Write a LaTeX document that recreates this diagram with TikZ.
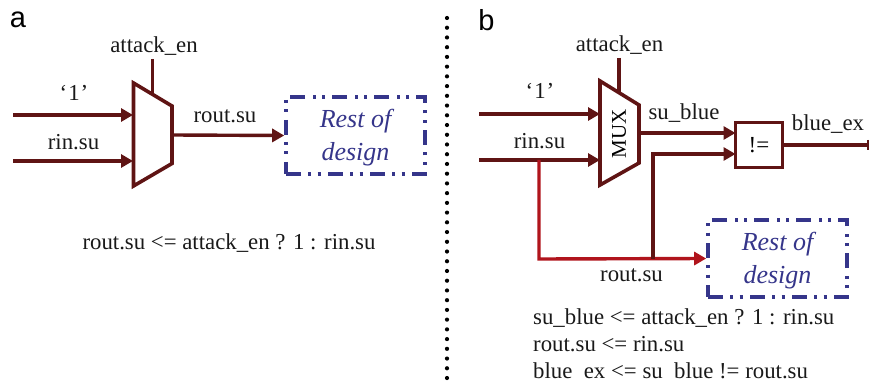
\documentclass[tikz,border=0pt]{standalone}
\usepackage{fontspec}
\setmainfont{Liberation Serif}
\newfontfamily\panelfont{Liberation Sans}
\usetikzlibrary{arrows.meta,calc}
\definecolor{wire}{HTML}{5F1414}
\definecolor{redwire}{HTML}{B0141C}
\definecolor{restblue}{HTML}{35358A}
\tikzset{
  sig/.style={line width=3.4pt,draw=wire},
  sigarrow/.style={sig,-{Triangle[length=12pt,width=13pt]}},
  redarrow/.style={line width=3.4pt,draw=redwire,-{Triangle[length=12pt,width=13pt]}},
  muxshape/.style={line width=3.6pt,draw=wire,line join=miter},
  label/.style={inner sep=0pt,font=\fontsize{22.8}{26}\selectfont,text=black!90},
  codeline/.style={inner sep=0pt,anchor=base west,font=\fontsize{22.8}{26}\selectfont,text=black!90},
  panel/.style={inner sep=0pt,font=\panelfont\fontsize{29}{32}\selectfont,text=black},
  restbox/.style={minimum width=139pt,minimum height=77pt,inner sep=0pt,draw=restblue,line width=3.6pt,
    dash pattern=on 15pt off 7pt on 3pt off 6.5pt on 3pt off 7.5pt},
  resttext/.style={inner sep=0pt,align=center,text=restblue,font=\itshape\fontsize{26}{33}\selectfont},
  cmpbox/.style={minimum width=47pt,minimum height=45pt,inner sep=0pt,draw=wire,line width=3.4pt,font=\fontsize{23}{26}\selectfont},
  divider/.style={line width=4.2pt,black,line cap=round,dash pattern=on 0pt off 9.73pt},
}
\begin{document}
\begin{tikzpicture}[x=1pt,y=-1pt]
\useasboundingbox (0,0) rectangle (869,382);
% panel a
\node[panel] (pa) at (18,20) {a};
\draw[muxshape] (133.5,83) -- (172,106) -- (172,163.5) -- (133.5,186) -- cycle;
\coordinate (aIn1) at (133,115);
\coordinate (aIn2) at (133,161);
\coordinate (aOut) at (172,135);
\coordinate (aSel) at (152.5,93);
\coordinate (aSelTop) at (152.5,59);
\coordinate (aS1) at (13,115);
\coordinate (aS2) at (13,161);
\draw[sig] (aSelTop) -- (aSel);
\draw[sigarrow] (aS1) -- (aIn1);
\draw[sigarrow] (aS2) -- (aIn2);
\node[restbox] (aRest) at (355.5,135.5) {};
\node[resttext] (aRestT) at (355.5,137.5) {Rest of\\design};
\draw[sigarrow] (aOut) -- (aRest.west);
\node[label] (aAttack) at (154,46) {attack\_en};
\node[label] (aOne) at (74,93) {‘\kern1pt1\kern1pt’};
\node[label] (aRin) at (73.5,142) {rin.su};
\node[label] (aRout) at (225,116) {rout.su};
\node[label] (aEq) at (229,243) {rout.su <= attack\_en ? 1 : rin.su};
% divider
\coordinate (dTop) at (447,18);
\coordinate (dBot) at (447,379);
\draw[divider] (dTop) -- (dBot);
% panel b
\node[panel] (pb) at (486.5,20) {b};
\draw[muxshape] (600,81) -- (639,105) -- (639,163) -- (600,185) -- cycle;
\node[inner sep=0pt,rotate=90,font=\fontsize{21}{24}\selectfont] (bMux) at (619,134) {MUX};
\coordinate (bIn1) at (600,114);
\coordinate (bIn2) at (600,160);
\coordinate (bOut) at (639,133);
\coordinate (bSel) at (619,92);
\coordinate (bSelTop) at (619,58);
\coordinate (bS1) at (479,114);
\coordinate (bS2) at (479,160);
\draw[sig] (bSelTop) -- (bSel);
\draw[sigarrow] (bS1) -- (bIn1);
\draw[sigarrow] (bS2) -- (bIn2);
\node[cmpbox] (bCmp) at (759,145) {!=};
\coordinate (bCmpIn1) at (735.5,133);
\coordinate (bCmpIn2) at (735.5,154);
\draw[sigarrow] (bOut) -- (bCmpIn1);
\node[restbox] (bRest) at (777.5,258.5) {};
\node[resttext] (bRestT) at (777.5,260.5) {Rest of\\design};
\coordinate (bRedStart) at (539,160);
\coordinate (bRedCorner) at (539,259);
\coordinate (bTap) at (653,259);
\coordinate (bUp) at (653,154);
\draw[redarrow,line join=miter] (bRedStart) -- (bRedCorner) -- (bRest.west);
\draw[sigarrow,line join=miter] (bTap) -- (bUp) -- (bCmpIn2);
\coordinate (bExEnd) at (869,145);
\draw[sig,-{Bar[width=10pt,line width=2.5pt]}] (bCmp.east) -- (bExEnd);
\node[label] (bAttack) at (619.5,45) {attack\_en};
\node[label] (bOne) at (540,91) {‘\kern1pt1\kern1pt’};
\node[label] (bRin) at (539.5,141) {rin.su};
\node[label] (bSu) at (684,113) {su\_blue};
\node[label] (bEx) at (828,124) {blue\_ex};
\node[label] (bRout) at (631.5,275) {rout.su};
\node[codeline] (bEq1) at (533,324) {su\_blue <= attack\_en ? 1 : rin.su};
\node[codeline] (bEq2) at (533,351) {rout.su <= rin.su};
\node[codeline] (bEq3) at (533,378.3) {blue\phantom{\_}ex <= su\phantom{\_}blue != rout.su};
\end{tikzpicture}
\end{document}
